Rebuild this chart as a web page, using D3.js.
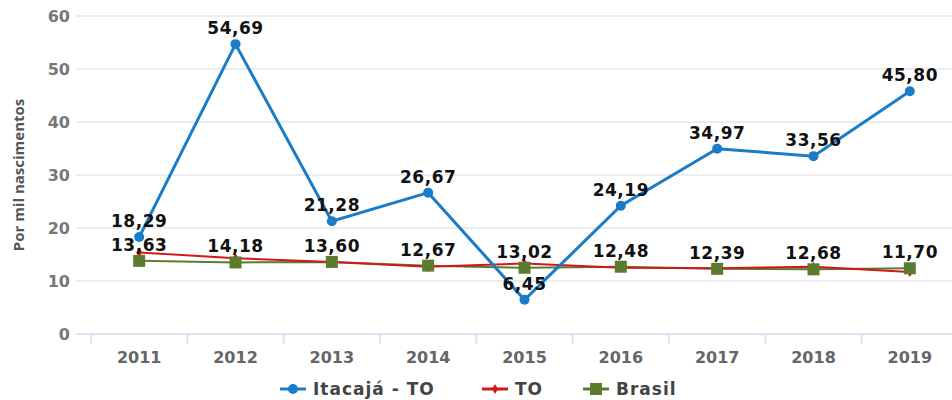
<!DOCTYPE html>
<html>
<head>
<script src="https://cdn.jsdelivr.net/npm/d3@7"></script>
<style>
    body{ margin:0; background:white; font-family:"DejaVu Sans",sans-serif; }
</style>
</head>
<body>
<div id="chart"></div>
<script>
    var years = ["2011","2012","2013","2014","2015","2016","2017","2018","2019"]
    var itacaja = [18.29,54.69,21.28,26.67,6.45,24.19,34.97,33.56,45.80]
    var to = [15.4,14.3,13.60,12.67,13.3,12.48,12.39,12.68,11.70]
    var toLabels = ["13,63","14,18","13,60","12,67","13,02","12,48","12,39","12,68","11,70"]
    var brasil = [13.8,13.5,13.6,12.9,12.5,12.7,12.3,12.2,12.4]
    var yTicks = [0,10,20,30,40,50,60]

    var width = 952, height = 400
    var svg = d3.select("#chart").append("svg").attr("width",width).attr("height",height)

    var x = d3.scalePoint().domain(years).range([91,958]).padding(0.5)
    var y = d3.scaleLinear().domain([0,60]).range([334,16])
    var fmt = function(v){ return v.toFixed(2).replace(".",",") }

    // grid
    svg.append("g").selectAll("line").data(yTicks.slice(1)).join("line")
        .attr("x1",76).attr("x2",width).attr("y1",d=>y(d)).attr("y2",d=>y(d))
        .attr("stroke","#ebebf0").attr("stroke-width",2)

    var yAxis = svg.append("g").attr("transform","translate(70,0)")
        .call(d3.axisLeft(y).tickValues(yTicks).tickSize(0).tickPadding(0))
    yAxis.select(".domain").remove()
    yAxis.selectAll("text").attr("font-size",16).attr("font-weight","bold").attr("fill","#777")
        .attr("font-family","DejaVu Sans")

    // x axis
    var step = x.step()
    svg.append("line").attr("x1",76).attr("x2",width).attr("y1",y(0)).attr("y2",y(0))
        .attr("stroke","#dde3f0").attr("stroke-width",2)
    svg.append("g").selectAll("line").data(years).join("line")
        .attr("x1",d=>x(d)-step/2).attr("x2",d=>x(d)-step/2)
        .attr("y1",y(0)).attr("y2",y(0)+10)
        .attr("stroke","#dde3f0").attr("stroke-width",2)
    svg.append("g").selectAll("text").data(years).join("text")
        .attr("x",d=>x(d)).attr("y",y(0)+29).attr("text-anchor","middle")
        .attr("font-size",16).attr("font-weight","bold").attr("fill","#666").text(d=>d)

    svg.append("text").attr("transform","translate(24,175) rotate(-90)")
        .attr("text-anchor","middle").attr("font-size",15).attr("font-weight","bold")
        .attr("font-family","Open Sans").attr("fill","#555").text("Por mil nascimentos")

    var line = d3.line().x((d,i)=>x(years[i])).y(d=>y(d))

    // Brasil
    svg.append("path").attr("d",line(brasil)).attr("fill","none").attr("stroke","#5b7b2e").attr("stroke-width",2)
    // TO
    svg.append("path").attr("d",line(to)).attr("fill","none").attr("stroke","#d0181c").attr("stroke-width",2)
    svg.append("g").selectAll("path").data(to).join("path")
        .attr("d",d3.symbol(d3.symbolDiamond,30))
        .attr("transform",(d,i)=>"translate("+x(years[i])+","+y(d)+")").attr("fill","#d0181c")
    svg.append("g").selectAll("rect").data(brasil).join("rect")
        .attr("x",(d,i)=>x(years[i])-6).attr("y",d=>y(d)-6).attr("width",12).attr("height",12)
        .attr("fill","#5b7b2e")
    // Itacaja
    svg.append("path").attr("d",line(itacaja)).attr("fill","none").attr("stroke","#1a7bc6").attr("stroke-width",3)
    svg.append("g").selectAll("circle").data(itacaja).join("circle")
        .attr("cx",(d,i)=>x(years[i])).attr("cy",d=>y(d)).attr("r",5).attr("fill","#1a7bc6")

    // labels
    svg.append("g").selectAll("text").data(itacaja).join("text")
        .attr("x",(d,i)=>x(years[i])).attr("y",d=>y(d)-10).attr("text-anchor","middle")
        .attr("font-size",17).attr("font-weight","bold").attr("letter-spacing",0.5)
        .attr("fill","#111").text(d=>fmt(d))
    svg.append("g").selectAll("text").data(toLabels).join("text")
        .attr("x",(d,i)=>x(years[i])).attr("y",(d,i)=>y(brasil[i])-10).attr("text-anchor","middle")
        .attr("font-size",17).attr("font-weight","bold").attr("letter-spacing",0.5)
        .attr("fill","#111").text(d=>d)

    // legend
    var legend = [
        {name:"Itacajá - TO", color:"#1a7bc6", x:280, mark:"circle"},
        {name:"TO", color:"#d0181c", x:482, mark:"diamond"},
        {name:"Brasil", color:"#5b7b2e", x:583, mark:"square"}
    ]
    var lg = svg.append("g").selectAll("g").data(legend).join("g")
        .attr("transform",d=>"translate("+d.x+",389)")
    lg.append("line").attr("x1",0).attr("x2",26).attr("stroke",d=>d.color).attr("stroke-width",3)
    lg.each(function(d){
        var g = d3.select(this)
        if(d.mark=="circle") g.append("circle").attr("cx",13).attr("r",5).attr("fill",d.color)
        else if(d.mark=="diamond") g.append("path").attr("d",d3.symbol(d3.symbolDiamond,30)).attr("transform","translate(13,0)").attr("fill",d.color)
        else g.append("rect").attr("x",7).attr("y",-6).attr("width",12).attr("height",12).attr("fill",d.color)
    })
    lg.append("text").attr("x",33).attr("y",6).attr("font-size",17).attr("font-weight","bold")
        .attr("letter-spacing",1).attr("fill","#444").text(d=>d.name)
</script>
</body>
</html>
